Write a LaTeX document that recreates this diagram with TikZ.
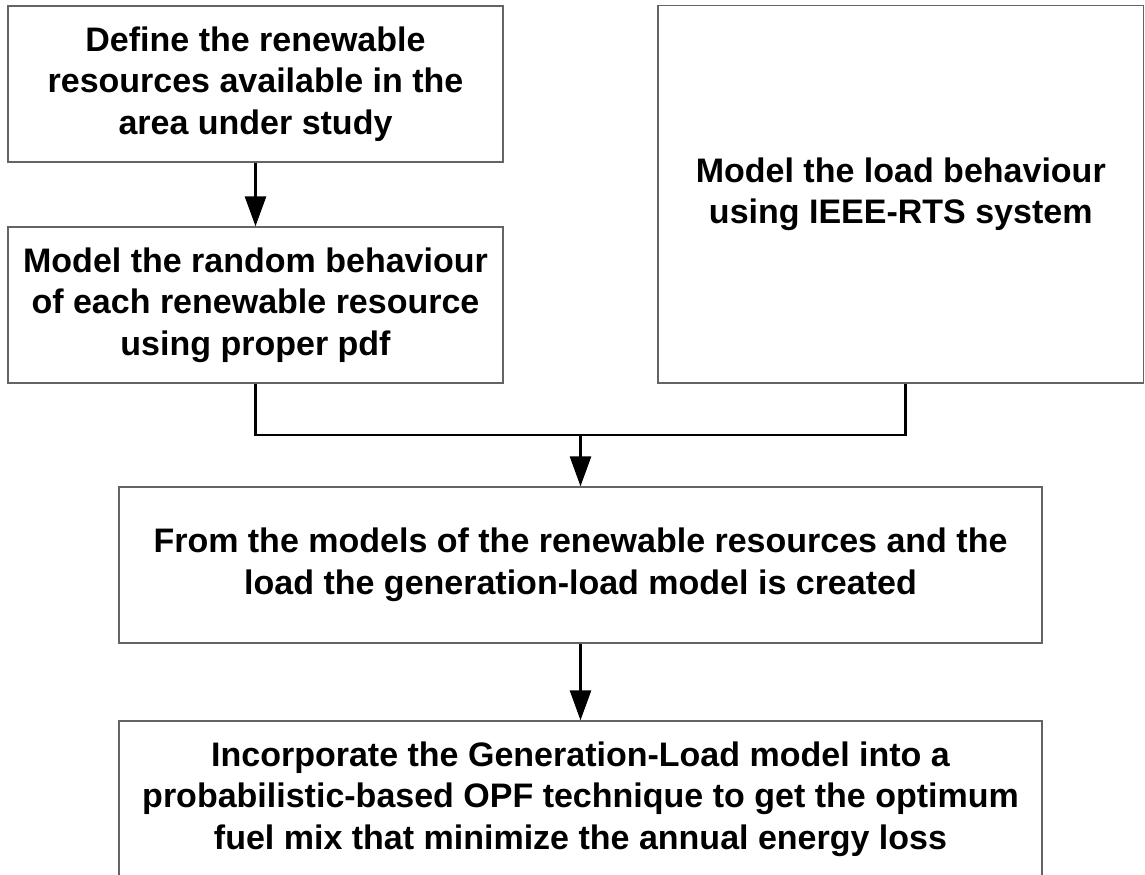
\documentclass[tikz,border=0pt]{standalone}
\usepackage{fontspec}
\setmainfont{Liberation Sans}
\usetikzlibrary{arrows.meta}
\definecolor{boxgray}{RGB}{100,100,100}
\begin{document}
\begin{tikzpicture}[x=1bp,y=-1bp,
  stage/.style={draw=boxgray, line width=1.3bp, rectangle, inner sep=0pt,
    align=center, text=black,
    font=\fontsize{34bp}{41.5bp}\selectfont\bfseries},
  link/.style={draw=black, line width=2.7bp, line join=miter},
  flow/.style={link, -{Triangle[length=30bp,width=21bp]}}]
  % page frame
  \useasboundingbox (0,0) rectangle (1145,875);
  \clip (0,0) rectangle (1145,875);

  % process stages
  \node[stage, minimum width=495bp, minimum height=156bp] (b1) at (255.5,84)
    {Define the renewable\\resources available in the\\area under study};
  \node[stage, minimum width=495bp, minimum height=156bp] (b2) at (255.5,305)
    {Model the random behaviour\\of each renewable resource\\using proper pdf};
  \node[stage, minimum width=485.5bp, minimum height=377.5bp] (b3) at (900.75,194.25)
    {Model the load behaviour\\using IEEE-RTS system};
  \node[stage, minimum width=923bp, minimum height=156bp] (b4) at (580.5,565)
    {From the models of the renewable resources and the\\load the generation-load model is created};
  \node[stage, minimum width=923bp, minimum height=156bp] (b5) at (580.5,799)
    {Incorporate the Generation-Load model into a\\probabilistic-based OPF technique to get the optimum\\fuel mix that minimize the annual energy loss};

  % junction of the two model branches
  \coordinate (m) at (580.5,435);

  % connectors
  \draw[flow] (b1.south) -- (b2.north);
  \draw[link] (b2.south) |- (m) -| ([xshift=5bp]b3.south);
  \draw[flow] (m) -- (b4.north);
  \draw[flow] (b4.south) -- (b5.north);
\end{tikzpicture}
\end{document}
